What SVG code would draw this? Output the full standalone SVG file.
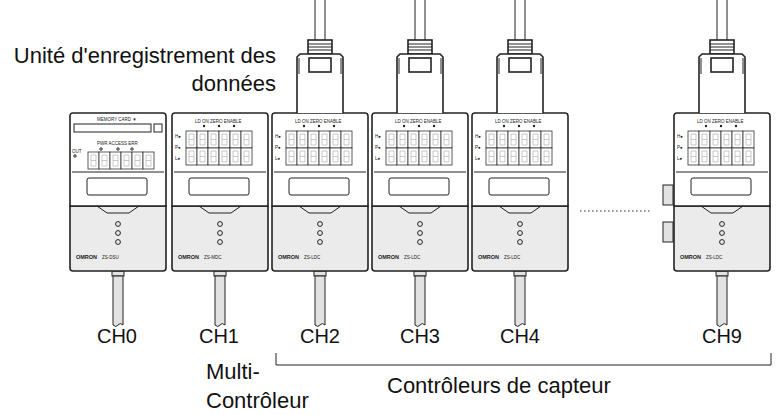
<svg xmlns="http://www.w3.org/2000/svg" xmlns:xlink="http://www.w3.org/1999/xlink" width="782" height="415" viewBox="0 0 782 415">
<style>
.o{fill:#fff;stroke:#222;stroke-width:1.6}
.l{fill:none;stroke:#222;stroke-width:1}
.lo{fill:#ebebeb;stroke:#222;stroke-width:1.6}
.d{fill:#fff;stroke:#333;stroke-width:0.8}
.sm{font-family:"Liberation Sans",sans-serif;font-size:4.5px;fill:#222}
.om{font-family:"Liberation Sans",sans-serif;font-size:5.5px;font-weight:bold;fill:#222}
.t{font-family:"Liberation Sans",sans-serif;font-size:22px;fill:#111}
.ch{font-family:"Liberation Sans",sans-serif;font-size:20px;fill:#111}
.cb{fill:#e2e2e2;stroke:#222;stroke-width:1}
</style>
<defs>
<g id="dig"><rect class="d" x="0" y="0" width="11" height="17"/><path d="M3 3h5M3 8.5h5M3 14h5M3 3v11M8 3v11" stroke="#bbb" stroke-width="0.8" fill="none"/></g>
<g id="six"><use xlink:href="#dig" x="0"/><use xlink:href="#dig" x="11"/><use xlink:href="#dig" x="22"/><use xlink:href="#dig" x="33"/><use xlink:href="#dig" x="44"/><use xlink:href="#dig" x="55"/></g>
<g id="base">
<rect class="cb" x="43" y="158" width="12" height="5"/>
<path class="cb" d="M44 163h10v49q-3 -3 -5 0q-2 3 -5 0z"/>
<path class="lo" d="M1 93h96v62q0 3 -3 3h-90q-3 0 -3 -3z"/>
<path class="o" d="M4 0h90q3 0 3 3v90h-96v-90q0 -3 3 -3z"/>
<path class="l" d="M28 93l10 7h22l10 -7"/>
<line class="l" x1="3" y1="59" x2="95" y2="59" stroke-width="1.4"/>
<rect class="l" x="18" y="65" width="60" height="17" rx="2"/>
<circle class="l" cx="49" cy="111" r="2.4"/><circle class="l" cx="49" cy="120" r="2.4"/><circle class="l" cx="49" cy="129" r="2.4"/>
<text class="om" x="7" y="146">OMRON</text>
</g>
<g id="ctrl">
<use xlink:href="#base"/>
<text class="sm" x="24" y="10">LD ON  ZERO ENABLE</text>
<circle cx="33" cy="13" r="1.2" fill="#222"/><circle cx="48" cy="13" r="1.2" fill="#222"/><circle cx="63" cy="13" r="1.2" fill="#222"/>
<use xlink:href="#six" x="15" y="18"/><use xlink:href="#six" x="15" y="35"/>
<text class="sm" x="4" y="25">H●</text><text class="sm" x="4" y="36">P●</text><text class="sm" x="4" y="47">L●</text>
</g>
<g id="plug">
<path class="l" d="M-5 0v40M5 0v40" stroke-width="1.4"/>
<rect class="o" x="-12" y="40" width="24" height="14" stroke-width="1.2"/>
<path class="l" d="M-12 44h24M-12 47h24M-12 50h24"/>
<path class="o" d="M-23 113v-56l3 -3h40l3 3v56"/>
<path class="l" d="M-21 58v16M21 58v16"/>
<rect class="o" x="-11" y="58" width="22" height="14" stroke-width="1.2"/>
</g>
</defs>
<g id="dsu" transform="translate(69,113)">
<use xlink:href="#base"/>
<text class="sm" x="28" y="8">MEMORY CARD ▼</text>
<rect class="l" x="5" y="11" width="77" height="8"/><rect class="l" x="85" y="11" width="8" height="8"/>
<text class="sm" x="28" y="32">PWR  ACCESS  ERR</text>
<circle class="l" cx="32" cy="36" r="1.2"/><circle class="l" cx="49" cy="36" r="1.2"/><circle class="l" cx="63" cy="36" r="1.2"/>
<text class="sm" x="3" y="40">OUT</text><circle class="l" cx="6" cy="43" r="1.2"/>
<use xlink:href="#six" x="19" y="39"/>
<text class="sm" x="33" y="146">ZS-DSU</text>
</g>
<g id="mdc" transform="translate(171,113)"><use xlink:href="#ctrl"/><text class="sm" x="33" y="146">ZS-MDC</text></g>
<g id="ch2" transform="translate(271,113)"><use xlink:href="#ctrl"/><text class="sm" x="33" y="146">ZS-LDC</text></g>
<g id="ch3" transform="translate(371,113)"><use xlink:href="#ctrl"/><text class="sm" x="33" y="146">ZS-LDC</text></g>
<g id="ch4" transform="translate(471,113)"><use xlink:href="#ctrl"/><text class="sm" x="33" y="146">ZS-LDC</text></g>
<g id="ch9" transform="translate(673,113)">
<rect class="cb" x="-10" y="72" width="10" height="20" fill="#bbb"/><rect class="cb" x="-10" y="109" width="10" height="20" fill="#bbb"/>
<use xlink:href="#ctrl"/><text class="sm" x="33" y="146">ZS-LDC</text></g>
<g id="plugs">
<use xlink:href="#plug" x="320"/><use xlink:href="#plug" x="420"/><use xlink:href="#plug" x="520"/><use xlink:href="#plug" x="722"/>
</g>
<g id="connectors">
<line x1="580" y1="211" x2="652" y2="211" stroke="#333" stroke-width="1.2" stroke-dasharray="1.5 2.5"/>
<path d="M276 353v12h495v-12" fill="none" stroke="#222" stroke-width="1"/>
</g>
<g id="labels">
<text class="t" x="276" y="63" text-anchor="end">Unité d'enregistrement des</text>
<text class="t" x="276" y="91" text-anchor="end">données</text>
<text class="ch" x="117" y="343" text-anchor="middle">CH0</text>
<text class="ch" x="219" y="343" text-anchor="middle">CH1</text>
<text class="ch" x="320" y="343" text-anchor="middle">CH2</text>
<text class="ch" x="420" y="343" text-anchor="middle">CH3</text>
<text class="ch" x="520" y="343" text-anchor="middle">CH4</text>
<text class="ch" x="722" y="343" text-anchor="middle">CH9</text>
<text class="t" x="206" y="379">Multi-</text>
<text class="t" x="206" y="408">Contrôleur</text>
<text class="t" x="387" y="393">Contrôleurs de capteur</text>
</g>
</svg>
